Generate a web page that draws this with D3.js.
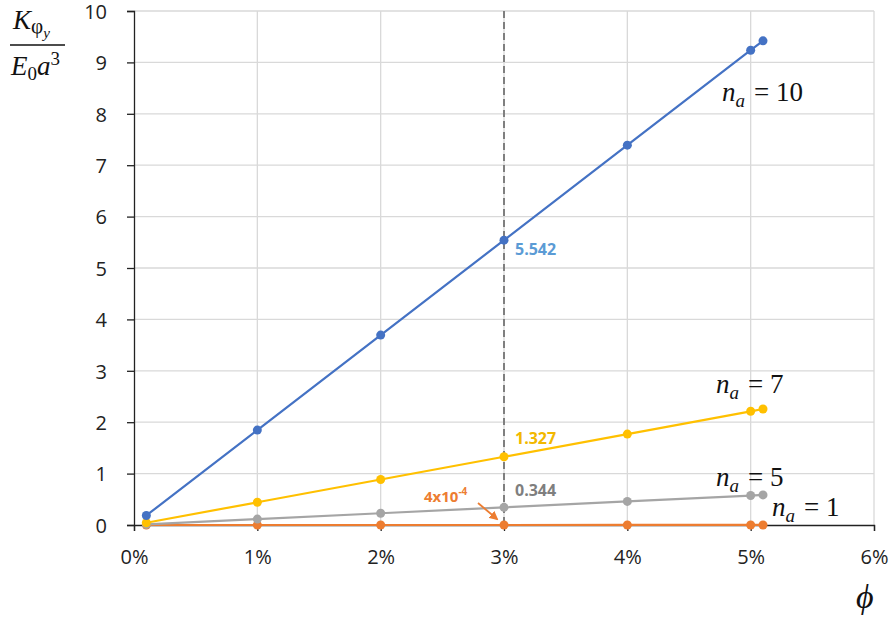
<!DOCTYPE html>
<html>
<head>
<meta charset="utf-8">
<script src="https://cdn.jsdelivr.net/npm/d3@7/dist/d3.min.js"></script>
<style>
  body { margin: 0; background: #fff; }
  svg { display: block; }
  .tick text { font-family: "Open Sans", "Liberation Sans", sans-serif; font-size: 20px; fill: #222; }
  .math { font-family: "Liberation Serif", "DejaVu Serif", serif; font-style: italic; fill: #111; }
  .mathup { font-family: "Liberation Serif", "DejaVu Serif", serif; fill: #111; }
</style>
</head>
<body>
<svg id="chart" width="895" height="619"></svg>
<script>
// Porosity (fraction) and normalised stiffness for each n_a
const phi = [0.001, 0.01, 0.02, 0.03, 0.04, 0.05, 0.051];
const kNa10 = [0.185, 1.847, 3.695, 5.542, 7.39, 9.237, 9.42];
const kNa7  = [0.044, 0.442, 0.885, 1.327, 1.769, 2.212, 2.256];
const kNa5  = [0.011, 0.115, 0.229, 0.344, 0.459, 0.573, 0.585];
const kNa1  = [0.0000133, 0.000133, 0.000267, 0.0004, 0.000533, 0.000667, 0.00068];

const xTicks = [0, 0.01, 0.02, 0.03, 0.04, 0.05, 0.06];
const yTicks = [0, 1, 2, 3, 4, 5, 6, 7, 8, 9, 10];

const seriesList = [
  { name: "1",  values: kNa1,  color: "#ed7d31" },
  { name: "5",  values: kNa5,  color: "#a5a5a5" },
  { name: "7",  values: kNa7,  color: "#ffc000" },
  { name: "10", values: kNa10, color: "#4472c4" }
];

const svg = d3.select("#chart");
const x = d3.scaleLinear().domain([0, 0.06]).range([134, 874]);
const y = d3.scaleLinear().domain([0, 10]).range([525, 11]);

// gridlines
svg.append("g").selectAll("line.h").data(yTicks.slice(1)).join("line")
  .attr("x1", x(0)).attr("x2", x(0.06))
  .attr("y1", d => y(d)).attr("y2", d => y(d))
  .attr("stroke", "#d9d9d9").attr("stroke-width", 1.3);
svg.append("g").selectAll("line.v").data(xTicks.slice(1)).join("line")
  .attr("x1", d => x(d)).attr("x2", d => x(d))
  .attr("y1", y(0)).attr("y2", y(10))
  .attr("stroke", "#d9d9d9").attr("stroke-width", 1.3);

// axes
const xAxis = svg.append("g").attr("transform", `translate(0,${y(0)})`)
  .call(d3.axisBottom(x).tickValues(xTicks).tickFormat(d3.format(".0%")).tickSize(6).tickPadding(19));
const yAxis = svg.append("g").attr("transform", `translate(${x(0)},0)`)
  .call(d3.axisLeft(y).tickValues(yTicks).tickSize(7).tickPadding(20));
[xAxis, yAxis].forEach(a => {
  a.select(".domain").attr("stroke", "#222").attr("stroke-width", 1.3);
  a.selectAll(".tick line").attr("stroke", "#222").attr("stroke-width", 1.3);
});
yAxis.selectAll(".tick text").attr("dy", "0.36em");

// reference line at phi = 3%
svg.append("line")
  .attr("x1", x(0.03)).attr("x2", x(0.03))
  .attr("y1", y(10)).attr("y2", y(0))
  .attr("stroke", "#7f7f7f").attr("stroke-width", 2).attr("stroke-dasharray", "7,4");

// series
const line = d3.line().x((d, i) => x(phi[i])).y(d => y(d));
seriesList.forEach(s => {
  svg.append("path").datum(s.values)
    .attr("d", line).attr("fill", "none")
    .attr("stroke", s.color).attr("stroke-width", 2.2);
  svg.append("g").selectAll("circle").data(s.values).join("circle")
    .attr("cx", (d, i) => x(phi[i])).attr("cy", d => y(d))
    .attr("r", 4.5).attr("fill", s.color);
});

// value labels at phi = 3%
const valFont = '"Open Sans", "Liberation Sans", sans-serif';
svg.append("text").attr("x", x(0.03) + 11).attr("y", y(kNa10[3]) + 15)
  .attr("font-family", valFont).attr("font-weight", "bold").attr("font-size", 16)
  .attr("fill", "#5b9bd5").text(kNa10[3].toFixed(3));
svg.append("text").attr("x", x(0.03) + 11).attr("y", y(kNa7[3]) - 13)
  .attr("font-family", valFont).attr("font-weight", "bold").attr("font-size", 16)
  .attr("fill", "#f2b800").text(kNa7[3].toFixed(3));
svg.append("text").attr("x", x(0.03) + 11).attr("y", y(kNa5[3]) - 11)
  .attr("font-family", valFont).attr("font-weight", "bold").attr("font-size", 16)
  .attr("fill", "#7f7f7f").text(kNa5[3].toFixed(3));

// n_a = 1 value with arrow
const orangeLbl = svg.append("text").attr("x", 424).attr("y", 502)
  .attr("font-family", valFont).attr("font-weight", "bold").attr("font-size", 15)
  .attr("fill", "#ed7d31");
orangeLbl.append("tspan").text("4x10");
orangeLbl.append("tspan").attr("dy", -7).attr("font-size", 10).text("-4");
svg.append("defs").append("marker").attr("id", "arr")
  .attr("viewBox", "0 0 10 10").attr("refX", 8).attr("refY", 5)
  .attr("markerWidth", 5).attr("markerHeight", 5).attr("orient", "auto")
  .append("path").attr("d", "M0,0 L10,5 L0,10 z").attr("fill", "#ed7d31");
svg.append("line").attr("x1", 478).attr("y1", 503).attr("x2", 497).attr("y2", 519)
  .attr("stroke", "#ed7d31").attr("stroke-width", 1.8).attr("marker-end", "url(#arr)");

// series labels  n_a = ...
function naLabel(px, py, val) {
  const t = svg.append("text").attr("x", px).attr("y", py).attr("font-size", 27);
  t.append("tspan").attr("class", "math").text("n");
  t.append("tspan").attr("class", "math").attr("dy", 6).attr("font-size", 19).text("a");
  t.append("tspan").attr("class", "mathup").attr("dy", -6).attr("dx", 9).text("= " + val);
}
naLabel(722, 101, "10");
naLabel(716, 393, "7");
naLabel(716, 486, "5");
naLabel(772, 516, "1");

// y-axis title: K_{φ_y} / (E_0 a^3)
const yt = svg.append("g");
const num = yt.append("text").attr("x", 13).attr("y", 29).attr("font-size", 27);
num.append("tspan").attr("class", "math").text("K");
num.append("tspan").attr("class", "mathup").attr("dy", 4).attr("font-size", 21).text("φ");
num.append("tspan").attr("class", "math").attr("dy", 5).attr("font-size", 15).text("y");
yt.append("line").attr("x1", 10).attr("x2", 65).attr("y1", 45).attr("y2", 45)
  .attr("stroke", "#111").attr("stroke-width", 1.4);
const den = yt.append("text").attr("x", 11).attr("y", 75).attr("font-size", 27);
den.append("tspan").attr("class", "math").text("E");
den.append("tspan").attr("class", "mathup").attr("dy", 5).attr("font-size", 19).text("0");
den.append("tspan").attr("class", "math").attr("dy", -5).text("a");
den.append("tspan").attr("class", "mathup").attr("dy", -10).attr("font-size", 19).text("3");

// x-axis title
svg.append("text").attr("class", "math").attr("x", 856).attr("y", 608)
  .attr("font-size", 34).text("ϕ");
</script>
</body>
</html>
